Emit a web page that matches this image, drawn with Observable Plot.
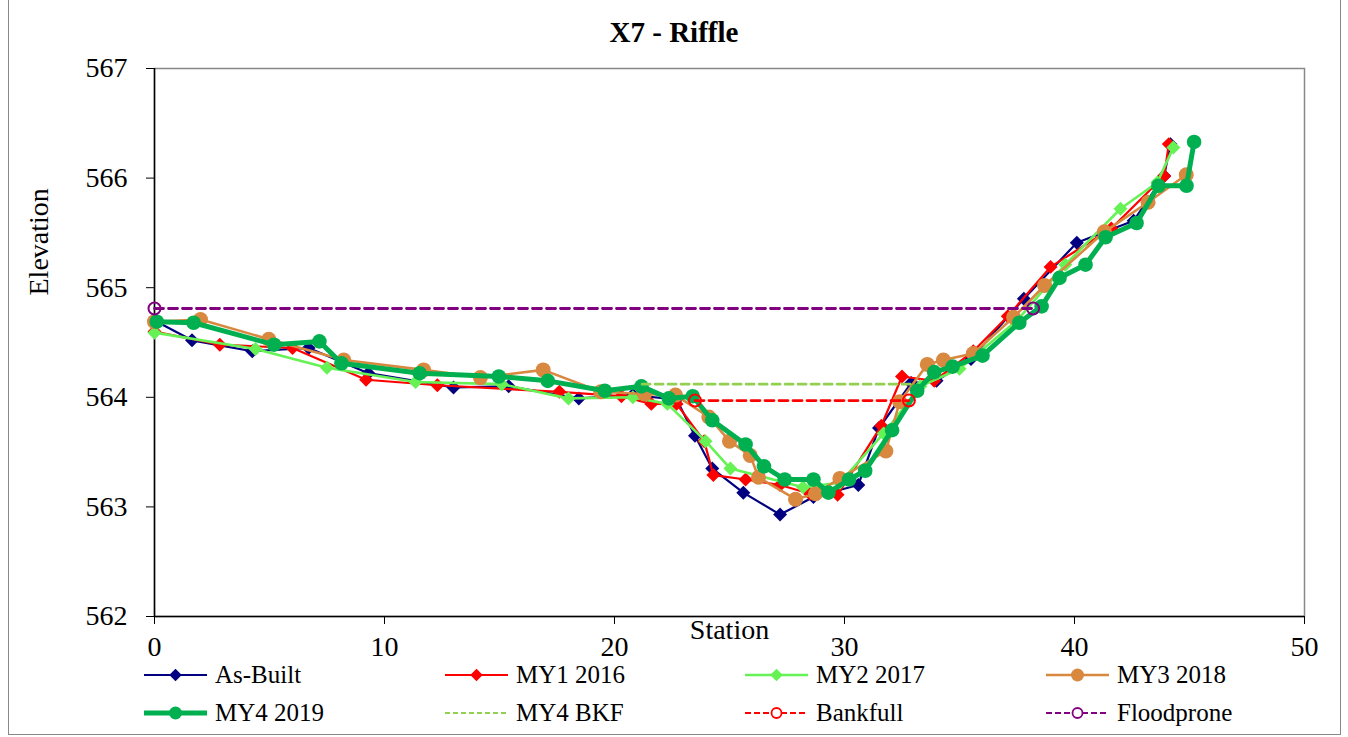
<!DOCTYPE html>
<html><head><meta charset="utf-8">
<script src="https://cdn.jsdelivr.net/npm/d3@7"></script>
<script src="https://cdn.jsdelivr.net/npm/@observablehq/plot@0.6"></script>
<style>
body{margin:0;background:#fff;}
#wrap{position:relative;width:1348px;height:737px;overflow:hidden;font-family:"Liberation Serif","Times New Roman",serif;color:#000;}
#border{position:absolute;left:8px;top:-2px;width:1333px;height:737px;border:1px solid #888;box-sizing:border-box;}
#title{position:absolute;left:0;width:1348px;top:18px;text-align:center;font-weight:bold;font-size:29px;line-height:1;}
#chart{position:absolute;left:0;top:48px;}
.leg{position:absolute;height:22px;display:flex;align-items:center;font-size:25px;white-space:nowrap;}
.leg svg{margin-right:8px;}
.leg span{display:inline-block;height:20px;line-height:20px;}
</style></head>
<body>
<div id="wrap">
  <div id="border"></div>
  <div id="title">X7 - Riffle</div>
  <div id="chart"></div>
  <div id="legend"></div>
</div>
<script>
// ---- data ----
const xTicks = [0, 10, 20, 30, 40, 50];
const yTicks = [562, 563, 564, 565, 566, 567];

const asBuiltSt = [0, 1.63, 4.25, 6.7, 9.3, 13.0, 15.4, 18.45, 20.8, 22.7, 23.5, 24.25, 25.6, 27.2, 28.65, 30.6, 31.5, 32.9, 34.0, 35.5, 37.8, 40.1, 42.57, 43.9, 44.17];
const asBuiltEl = [564.70, 564.52, 564.42, 564.45, 564.22, 564.09, 564.10, 563.99, 564.02, 563.98, 563.65, 563.35, 563.13, 562.93, 563.09, 563.20, 563.72, 564.13, 564.15, 564.35, 564.90, 565.41, 565.61, 566.02, 566.31];

const my1St = [0, 2.84, 6.0, 9.2, 12.3, 17.6, 20.3, 21.6, 22.7, 23.9, 24.3, 25.7, 27.2, 28.5, 29.7, 31.6, 32.5, 33.9, 35.6, 37.1, 38.96, 41.6, 43.9, 44.1];
const my1El = [564.60, 564.48, 564.45, 564.16, 564.11, 564.05, 564.01, 563.94, 563.94, 563.60, 563.29, 563.25, 563.20, 563.12, 563.11, 563.74, 564.19, 564.15, 564.42, 564.74, 565.19, 565.54, 566.02, 566.31];

const my2St = [0, 4.39, 7.5, 11.35, 15.1, 18.0, 20.8, 22.3, 23.96, 25.04, 28.2, 29.8, 31.7, 33.3, 35.0, 37.5, 39.6, 42.0, 43.6, 44.3];
const my2El = [564.59, 564.44, 564.27, 564.14, 564.12, 563.99, 564.00, 563.94, 563.60, 563.35, 563.18, 563.22, 563.67, 564.10, 564.26, 564.70, 565.21, 565.72, 565.96, 566.28];

const my3St = [0, 2.0, 4.97, 8.23, 11.7, 14.17, 16.9, 19.4, 21.3, 22.65, 24.1, 25.0, 25.9, 26.26, 27.87, 28.74, 29.8, 31.8, 32.4, 33.6, 34.3, 35.6, 37.35, 38.7, 41.3, 43.2, 44.86];
const my3El = [564.69, 564.71, 564.53, 564.34, 564.25, 564.18, 564.25, 564.05, 564.03, 564.02, 563.82, 563.60, 563.47, 563.27, 563.07, 563.12, 563.26, 563.51, 563.96, 564.30, 564.34, 564.40, 564.73, 565.02, 565.51, 565.78, 566.03];

const my4St = [0.1, 1.7, 5.2, 7.17, 8.13, 11.53, 14.97, 17.1, 19.58, 21.17, 22.36, 23.4, 24.25, 25.7, 26.5, 27.4, 28.65, 29.3, 30.2, 30.9, 32.07, 33.16, 33.9, 34.7, 36.0, 37.6, 38.57, 39.35, 40.48, 41.35, 42.7, 43.65, 44.87, 45.2];
const my4El = [564.69, 564.68, 564.48, 564.51, 564.31, 564.22, 564.19, 564.15, 564.06, 564.10, 563.99, 564.01, 563.79, 563.57, 563.37, 563.25, 563.25, 563.13, 563.25, 563.33, 563.70, 564.06, 564.23, 564.28, 564.38, 564.68, 564.83, 565.09, 565.21, 565.46, 565.59, 565.93, 565.93, 566.33];

const bkfSt = [21.2, 32.9];
const bkfEl = [564.12, 564.12];
const bankfullSt = [23.5, 32.8];
const bankfullEl = [563.97, 563.97];
const floodSt = [0, 38.2];
const floodEl = [564.81, 564.81];

const seriesNames = ["As-Built", "MY1 2016", "MY2 2017", "MY3 2018", "MY4 2019", "MY4 BKF", "Bankfull", "Floodprone"];

// ---- build ----
const zip = (s, e) => s.map((x, i) => ({x, y: e[i]}));
const FONT = "Liberation Serif, Times New Roman, serif";

const styles = {
  "As-Built":  {color: "#000080", width: 2.2, marker: "diamond", r: 6.3},
  "MY1 2016":  {color: "#ff0000", width: 2.2, marker: "diamond", r: 6.3},
  "MY2 2017":  {color: "#66f255", width: 2.6, marker: "diamond", r: 6.3},
  "MY3 2018":  {color: "#d9883f", width: 2.6, marker: "circle", r: 7.5},
  "MY4 2019":  {color: "#00b050", width: 5, marker: "circle", r: 7.3},
  "MY4 BKF":   {color: "#92d050", width: 2.8, dash: "8,5"},
  "Bankfull":  {color: "#ff0000", width: 2.8, dash: "9,5", hollow: true, r: 6},
  "Floodprone":{color: "#800080", width: 2.8, dash: "9,5", hollow: true, r: 6}
};

const data = {
  "As-Built": zip(asBuiltSt, asBuiltEl),
  "MY1 2016": zip(my1St, my1El),
  "MY2 2017": zip(my2St, my2El),
  "MY3 2018": zip(my3St, my3El),
  "MY4 2019": zip(my4St, my4El),
  "MY4 BKF": zip(bkfSt, bkfEl),
  "Bankfull": zip(bankfullSt, bankfullEl),
  "Floodprone": zip(floodSt, floodEl)
};

const seriesMarks = [];
for (const name of seriesNames) {
  const s = styles[name], d = data[name];
  seriesMarks.push(Plot.line(d, {x: "x", y: "y", stroke: s.color, strokeWidth: s.width, strokeDasharray: s.dash, strokeLinejoin: "round"}));
  if (s.marker) {
    seriesMarks.push(Plot.dot(d, {x: "x", y: "y", r: s.r, fill: s.color, symbol: s.marker === "diamond" ? "diamond2" : "circle"}));
  } else if (s.hollow) {
    seriesMarks.push(Plot.dot(d, {x: "x", y: "y", r: s.r, stroke: s.color, strokeWidth: 2, fill: "none"}));
  }
}

const chart = Plot.plot({
  width: 1348, height: 617,
  marginLeft: 154, marginRight: 44, marginTop: 20, marginBottom: 49,
  style: {fontFamily: FONT, fontSize: "28px", color: "#000", background: "transparent", overflow: "visible"},
  x: {domain: [0, 50]},
  y: {domain: [562, 567]},
  marks: [
    Plot.frame({stroke: "#888", strokeWidth: 1.5}),
    Plot.axisX({ticks: xTicks, tickSize: 8, tickPadding: 12, label: null, tickFormat: d => String(d)}),
    Plot.axisY({ticks: yTicks, tickSize: 8, tickPadding: 19, label: null, tickFormat: d => String(d)}),
    Plot.ruleX([0], {stroke: "#000", strokeWidth: 1.5}),
    Plot.ruleY([562], {stroke: "#000", strokeWidth: 1.5}),
    ...seriesMarks,
    Plot.text(["Station"], {frameAnchor: "bottom", dy: 22, fontSize: 28, text: d => d, fill: "#000"}),
    Plot.text(["Elevation"], {frameAnchor: "left", dx: -115, dy: -47, rotate: -90, fontSize: 28, text: d => d, fill: "#000"})
  ]
});
document.getElementById("chart").appendChild(chart);

// ---- legend ----
const legCols = [144, 445, 745, 1046];
const legRows = [675, 713];
const legend = document.getElementById("legend");
seriesNames.forEach((name, i) => {
  const s = styles[name];
  const div = document.createElement("div");
  div.className = "leg";
  div.style.left = legCols[i % 4] + "px";
  div.style.top = (legRows[Math.floor(i / 4)] - 11) + "px";
  let marker = "";
  if (s.marker === "diamond") {
    marker = `<path transform="translate(31.5,10)" d="${d3.symbol(d3.symbolDiamond2, 100)()}" fill="${s.color}"/>`;
  } else if (s.marker === "circle") {
    marker = `<circle cx="31.5" cy="10" r="6.5" fill="${s.color}"/>`;
  } else if (s.hollow) {
    marker = `<circle cx="31.5" cy="10" r="5" fill="white" stroke="${s.color}" stroke-width="1.8"/>`;
  }
  const dash = s.dash ? `stroke-dasharray="${name === "MY4 BKF" ? "5,3" : "6,3"}"` : "";
  div.innerHTML = `<svg width="63" height="20"><line x1="0" x2="63" y1="10" y2="10" stroke="${s.color}" stroke-width="${s.dash ? 2.2 : s.width}" ${dash}/>${marker}</svg><span>${name}</span>`;
  legend.appendChild(div);
});
</script>
</body></html>
